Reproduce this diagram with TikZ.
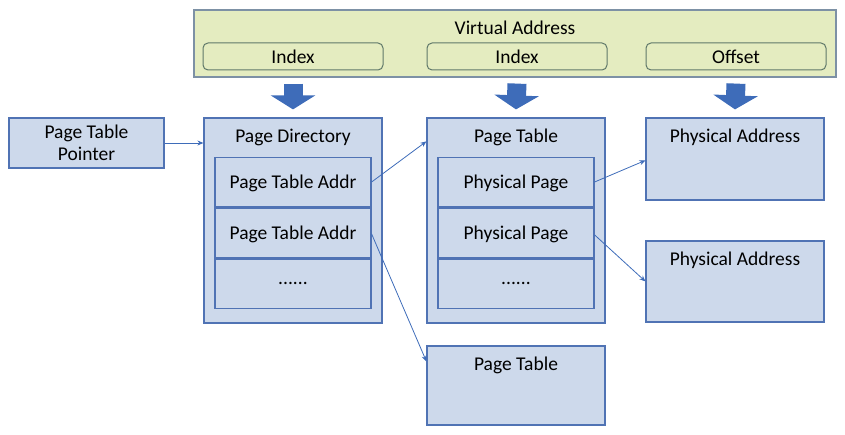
\documentclass[tikz,border=0pt]{standalone}
\usepackage{fontspec}
\setmainfont{Carlito}
\usepackage{tikz}
\usetikzlibrary{arrows.meta, positioning, calc}
\definecolor{panelfill}{RGB}{205,217,235}
\definecolor{panelline}{RGB}{80,115,180}
\definecolor{vafill}{RGB}{228,236,192}
\definecolor{valine}{RGB}{125,145,165}
\definecolor{idxline}{RGB}{95,120,105}
\definecolor{arrowblue}{RGB}{62,108,185}
\tikzset{
  panel/.style={
    minimum width=178pt,
    minimum height=205pt,
    inner sep=0pt,
    draw=panelline,
    fill=panelfill,
    line width=1.2pt
  },
  slot/.style={
    minimum width=156pt,
    minimum height=49.7pt,
    inner sep=0pt,
    text depth=0pt,
    draw=panelline,
    fill=panelfill,
    line width=1.2pt,
    font=\fontsize{19.5}{22}\selectfont
  },
  field/.style={
    minimum width=180pt,
    minimum height=27pt,
    inner sep=0pt,
    draw=idxline,
    rounded corners=5pt,
    line width=1pt,
    font=\fontsize{19.5}{22}\selectfont
  },
  title/.style={
    anchor=north,
    inner sep=0pt,
    font=\fontsize{19.5}{22}\selectfont
  },
  link/.style={draw=arrowblue, line width=0.8pt, -{Stealth[length=6pt,width=5pt]}},
  bigarrow/.style={draw=arrowblue, line width=19pt, line cap=butt,
    -{Triangle[length=14pt,width=44pt]}}
}
\begin{document}
\begin{tikzpicture}[x=1pt, y=-1pt]
    \useasboundingbox (0,0) rectangle (845,435);
    % virtual address
    \node (va) [draw=valine, fill=vafill, line width=1.2pt, minimum width=642pt,
      minimum height=67pt, inner sep=0pt] at (515,43.5) {};
    \node (vatitle) [title] at ($(va.north)+(0,11)$) {Virtual Address};
    \node (idx1) [field] at (293,56.5) {Index};
    \node (idx2) [field] at (517,56.5) {Index};
    \node (off) [field] at (736,56.5) {Offset};

    % left pointer
    \node (ptp) [panel, minimum width=155pt, minimum height=50pt, align=center,
      font=\fontsize{19.5}{22}\selectfont] at (86.5,143) {Page Table\\Pointer};

    % page directory
    \node (dir) [panel] at (293,220.5) {};
    \node (dirtitle) [title] at ($(dir.north)+(0,11)$) {Page Directory};
    \node (pta1) [slot] at (293,182) {Page Table Addr};
    \node (pta2) [slot, below=0pt of pta1] {Page Table Addr};
    \node (dirmore) [slot, below=0pt of pta2] {......};

    % page table
    \node (pt) [panel] at (516,220.5) {};
    \node (pttitle) [title] at ($(pt.north)+(0,11)$) {Page Table};
    \node (pp1) [slot] at (516,182) {Physical Page};
    \node (pp2) [slot, below=0pt of pp1] {Physical Page};
    \node (ptmore) [slot, below=0pt of pp2] {......};

    % second page table
    \node (pt2) [panel, minimum height=79pt] at (516,385.5) {};
    \node (pt2title) [title] at ($(pt2.north)+(0,11)$) {Page Table};

    % physical addresses
    \node (phys1) [panel, minimum height=82pt] at (735,159) {};
    \node (phys1title) [title] at ($(phys1.north)+(0,11)$) {Physical Address};
    \node (phys2) [panel, minimum height=81pt] at (735,281.5) {};
    \node (phys2title) [title] at ($(phys2.north)+(0,11)$) {Physical Address};

    % index arrows
    \draw [bigarrow] ($(idx1 |- va.south)+(0,6)$) -- ($(dir.north)+(0,-8)$);
    \draw [bigarrow] ($(idx2 |- va.south)+(0,6)$) -- ($(pt.north)+(0,-8)$);
    \draw [bigarrow] ($(off |- va.south)+(0,6)$) -- ($(phys1.north)+(0,-8)$);

    % links
    \draw [link] (ptp.east) -- (ptp.east -| dir.west);
    \draw [link] (pta1.east) -- ($(pt.north west)+(0,24)$);
    \draw [link] ($(pta2.east)+(0,1)$) -- ($(pt2.north west)+(0,16)$);
    \draw [link] (pp1.east) -- ($(phys1.north west)+(0,43)$);
    \draw [link] ($(pp2.east)+(0,2)$) -- ($(phys2.north west)+(0,41)$);
  \end{tikzpicture}
\end{document}
